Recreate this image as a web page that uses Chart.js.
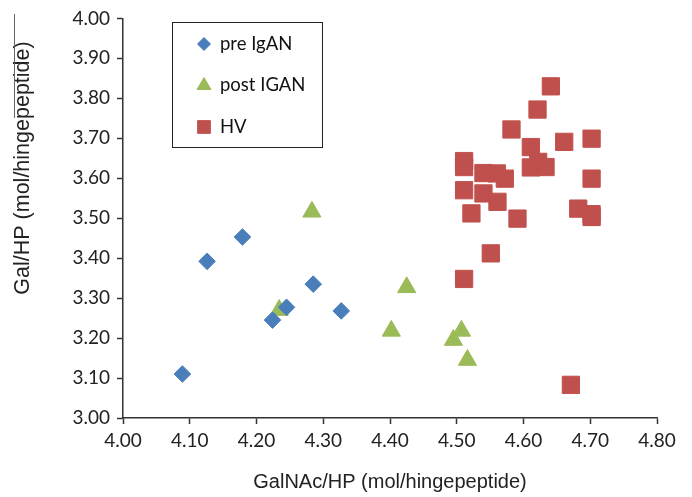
<!DOCTYPE html>
<html>
<head>
<meta charset="utf-8">
<script src="https://cdn.jsdelivr.net/npm/chart.js@4.4.1/dist/chart.umd.min.js"></script>
<style>
  html, body { margin: 0; padding: 0; background: #fff; }
  #wrap { width: 692px; height: 497px; }
</style>
</head>
<body>
<div id="wrap"><canvas id="scatter" width="692" height="497"></canvas></div>
<script>
// valeurs
const xTicks = [4.00, 4.10, 4.20, 4.30, 4.40, 4.50, 4.60, 4.70, 4.80];
const yTicks = [3.00, 3.10, 3.20, 3.30, 3.40, 3.50, 3.60, 3.70, 3.80, 3.90, 4.00];

const seriesNames = ['pre IgAN', 'post IGAN', 'HV'];

const preX = [4.089, 4.126, 4.179, 4.224, 4.245, 4.285, 4.327];
const preY = [3.110, 3.392, 3.453, 3.245, 3.277, 3.335, 3.268];

const postX = [4.234, 4.283, 4.402, 4.425, 4.495, 4.507, 4.516];
const postY = [3.270, 3.516, 3.218, 3.327, 3.195, 3.218, 3.145];

const hvX = [4.641, 4.621, 4.582, 4.661, 4.702, 4.611, 4.511, 4.622, 4.633,
             4.511, 4.540, 4.560, 4.572, 4.611, 4.702, 4.511, 4.540, 4.561,
             4.522, 4.591, 4.682, 4.702, 4.702, 4.551, 4.511, 4.671];
const hvY = [3.830, 3.772, 3.722, 3.691, 3.699, 3.678, 3.643, 3.641, 3.628,
             3.628, 3.613, 3.612, 3.599, 3.627, 3.599, 3.570, 3.562, 3.541,
             3.512, 3.499, 3.524, 3.510, 3.503, 3.412, 3.348, 3.083];

const colors = ['#4a7ebb', '#9bbb59', '#c0504d'];

const toPoints = (xs, ys) => xs.map((x, i) => ({ x, y: ys[i] }));

// legende encadree dans la zone du graphe
const boxLegend = {
    id: 'boxLegend',
    afterDraw(chart) {
        const { ctx, chartArea } = chart;
        const x0 = Math.round(chartArea.left + 49), y0 = Math.round(chartArea.top + 4);
        const w = 150, h = 125;
        const radii = [6.5, 8, 9];
        const drawPoint = (Chart.helpers && Chart.helpers.drawPoint);
        ctx.save();
        ctx.fillStyle = '#fff';
        ctx.fillRect(x0, y0, w, h);
        ctx.strokeStyle = '#222';
        ctx.lineWidth = 1;
        ctx.strokeRect(x0 + 0.5, y0 + 0.5, w, h);
        chart.data.datasets.forEach((ds, i) => {
            const cy = y0 + 22 + i * 41.5;
            ctx.fillStyle = ds.backgroundColor;
            ctx.strokeStyle = ds.borderColor;
            ctx.lineWidth = 1;
            if (drawPoint) {
                drawPoint(ctx, { pointStyle: ds.pointStyle, radius: radii[i], borderWidth: 1, rotation: 0 },
                    x0 + 32, cy);
            }
            ctx.fillStyle = '#111';
            ctx.font = '18.5px Lato';
            ctx.textBaseline = 'middle';
            ctx.textAlign = 'left';
            ctx.fillText(ds.label, x0 + 48, cy);
        });

        // titre de l'axe Y (pas centre sur l'axe dans l'original)
        ctx.translate(23, 168);
        ctx.rotate(-Math.PI / 2);
        ctx.font = '21.5px "Liberation Sans"';
        ctx.fillStyle = '#222';
        ctx.textAlign = 'center';
        ctx.textBaseline = 'middle';
        ctx.fillText('Gal/HP (mol/hingepeptide)', 0, 0);
        ctx.restore();

        // petit trait gris a gauche du titre
        ctx.save();
        ctx.strokeStyle = '#666';
        ctx.lineWidth = 1;
        ctx.beginPath();
        ctx.moveTo(14.5, 14);
        ctx.lineTo(14.5, 118);
        ctx.stroke();
        ctx.restore();
    }
};

const ctx = document.getElementById('scatter').getContext('2d');
new Chart(ctx, {
    type: 'scatter',
    data: {
        datasets: [
            {
                label: seriesNames[0], data: toPoints(preX, preY),
                pointStyle: 'rectRot', pointRadius: 8.3,
                backgroundColor: colors[0], borderColor: colors[0], borderWidth: 1
            },
            {
                label: seriesNames[1], data: toPoints(postX, postY),
                pointStyle: 'triangle', pointRadius: 10.5,
                backgroundColor: colors[1], borderColor: colors[1], borderWidth: 1
            },
            {
                label: seriesNames[2], data: toPoints(hvX, hvY),
                pointStyle: 'rect', pointRadius: 12.2,
                backgroundColor: colors[2], borderColor: colors[2], borderWidth: 1
            }
        ]
    },
    options: {
        responsive: false,
        animation: false,
        layout: { padding: { left: 0, right: 35, top: 18, bottom: 0 } },
        plugins: {
            legend: { display: false },
            tooltip: { enabled: false }
        },
        scales: {
            x: {
                type: 'linear',
                min: xTicks[0], max: xTicks[xTicks.length - 1],
                afterBuildTicks(scale) { scale.ticks = xTicks.map(v => ({ value: v })); },
                afterFit(scale) { scale.height = 79; },
                ticks: {
                    color: '#222', padding: 5,
                    font: { family: 'Lato', size: 19 },
                    callback: v => v.toFixed(2)
                },
                grid: { drawOnChartArea: false, color: '#333', tickLength: 6, tickWidth: 1.5 },
                border: { display: true, color: '#333', width: 1.5 },
                title: {
                    display: true, text: 'GalNAc/HP (mol/hingepeptide)', color: '#222',
                    font: { family: 'Liberation Sans', size: 20 },
                    padding: { top: 4, bottom: 3 }
                }
            },
            y: {
                type: 'linear',
                min: yTicks[0], max: yTicks[yTicks.length - 1],
                afterBuildTicks(scale) { scale.ticks = yTicks.map(v => ({ value: v })); },
                afterFit(scale) { scale.width = 123; },
                ticks: {
                    color: '#222', padding: 7,
                    font: { family: 'Lato', size: 19 },
                    callback: v => v.toFixed(2)
                },
                grid: { drawOnChartArea: false, color: '#333', tickLength: 6, tickWidth: 1.5 },
                border: { display: true, color: '#333', width: 1.5 }
            }
        }
    },
    plugins: [boxLegend]
});
</script>
</body>
</html>
